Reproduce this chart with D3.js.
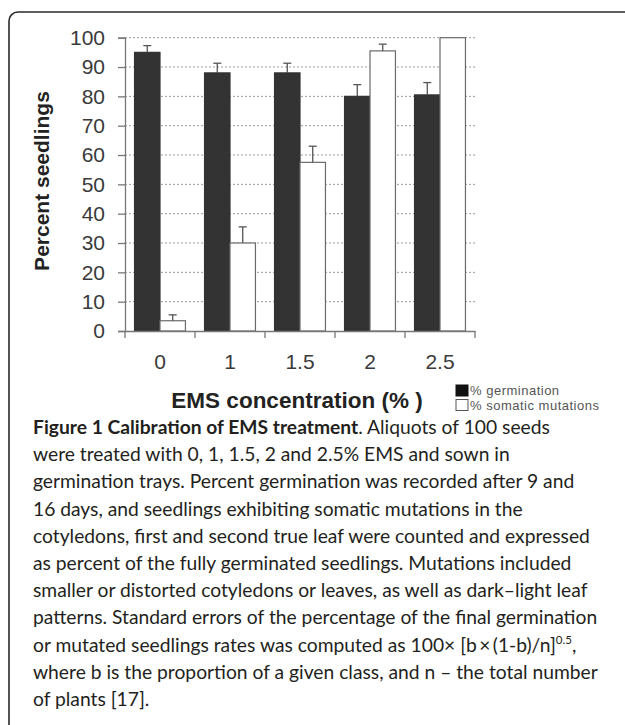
<!DOCTYPE html>
<html>
<head>
<meta charset="utf-8">
<script src="https://cdn.jsdelivr.net/npm/d3@7"></script>
<style>
  html, body { margin: 0; padding: 0; background: #fff; }
  svg { display: block; }
</style>
</head>
<body>
<svg id="chart" width="625" height="725"></svg>
<script>
// data
const concentrations = ["0", "1", "1.5", "2", "2.5"];
const germination = [95, 88, 88, 80, 80.5];
const germinationErr = [2.3, 3.3, 3.3, 4, 4.2];
const somatic = [3.5, 30, 57.5, 95.5, 100];
const somaticErr = [2, 5.5, 5.5, 2.3, 0];
const yTicks = [0, 10, 20, 30, 40, 50, 60, 70, 80, 90, 100];
const seriesNames = ["% germination", "% somatic mutations"];
const seriesColors = ["#333333", "#ffffff"];

const captionLines = [
  [["Figure 1 Calibration of EMS treatment", "bold"], [". Aliquots of 100 seeds", "normal"]],
  [["were treated with 0, 1, 1.5, 2 and 2.5% EMS and sown in", "normal"]],
  [["germination trays. Percent germination was recorded after 9 and", "normal"]],
  [["16 days, and seedlings exhibiting somatic mutations in the", "normal"]],
  [["cotyledons, first and second true leaf were counted and expressed", "normal"]],
  [["as percent of the fully germinated seedlings. Mutations included", "normal"]],
  [["smaller or distorted cotyledons or leaves, as well as dark\u2013light leaf", "normal"]],
  [["patterns. Standard errors of the percentage of the final germination", "normal"]],
  [["or mutated seedlings rates was computed as 100\u00d7 [b\u2009\u00d7\u2009(1-b)/n]", "normal"], ["0.5", "sup"], [",", "after"]],
  [["where b is the proportion of a given class, and n \u2013 the total number", "normal"]],
  [["of plants [17].", "normal"]]
];

const svg = d3.select("#chart");

// frame round the figure
svg.append("rect")
  .attr("x", 9).attr("y", 12)
  .attr("width", 640).attr("height", 760)
  .attr("rx", 9).attr("ry", 9)
  .attr("fill", "none")
  .attr("stroke", "#2a2a2a")
  .attr("stroke-width", 1.6);

const plot = { left: 125, right: 475, top: 37.7, bottom: 331 };

const x = d3.scaleBand()
  .domain(concentrations)
  .range([plot.left, plot.right]);

const xInner = d3.scaleBand()
  .domain(seriesNames)
  .range([0, x.bandwidth()])
  .paddingOuter(0.375);

const y = d3.scaleLinear()
  .domain([0, 100])
  .range([plot.bottom, plot.top]);

// dotted gridlines
svg.append("g")
  .selectAll("line")
  .data(yTicks.filter(d => d > 0))
  .enter().append("line")
  .attr("x1", plot.left).attr("x2", plot.right)
  .attr("y1", d => y(d)).attr("y2", d => y(d))
  .attr("stroke", "#9a9a9a")
  .attr("stroke-width", 1)
  .attr("stroke-dasharray", "2,2");

// bars
const rows = concentrations.map((c, i) => ({
  c,
  vals: [
    { s: seriesNames[0], v: germination[i], e: germinationErr[i], color: seriesColors[0] },
    { s: seriesNames[1], v: somatic[i], e: somaticErr[i], color: seriesColors[1] }
  ]
}));

const group = svg.append("g").selectAll("g")
  .data(rows)
  .enter().append("g")
  .attr("transform", d => `translate(${x(d.c)},0)`);

group.selectAll("rect")
  .data(d => d.vals)
  .enter().append("rect")
  .attr("x", d => xInner(d.s))
  .attr("width", xInner.bandwidth())
  .attr("y", d => y(d.v))
  .attr("height", d => y(0) - y(d.v))
  .attr("fill", d => d.color)
  .attr("stroke", d => d.color === "#ffffff" ? "#6a6a6a" : "#333333")
  .attr("stroke-width", 1.2);

// upward error bars with cap
const errs = group.selectAll("g.err")
  .data(d => d.vals.filter(v => v.e > 0))
  .enter().append("g").attr("class", "err");

errs.append("line")
  .attr("x1", d => xInner(d.s) + xInner.bandwidth() / 2)
  .attr("x2", d => xInner(d.s) + xInner.bandwidth() / 2)
  .attr("y1", d => y(d.v))
  .attr("y2", d => y(d.v + d.e))
  .attr("stroke", "#555")
  .attr("stroke-width", 1.3);

errs.append("line")
  .attr("x1", d => xInner(d.s) + xInner.bandwidth() / 2 - 4)
  .attr("x2", d => xInner(d.s) + xInner.bandwidth() / 2 + 4)
  .attr("y1", d => y(d.v + d.e))
  .attr("y2", d => y(d.v + d.e))
  .attr("stroke", "#555")
  .attr("stroke-width", 1.3);

// y axis
const yAxis = svg.append("g")
  .attr("transform", `translate(${plot.left},0)`)
  .call(d3.axisLeft(y).tickValues(yTicks).tickSizeOuter(0).tickSize(7).tickPadding(13));

// x axis, ticks at band boundaries
const xAxis = svg.append("g")
  .attr("transform", `translate(0,${plot.bottom})`)
  .call(d3.axisBottom(x).tickSize(0).tickPadding(23));

xAxis.append("g")
  .selectAll("line")
  .data(concentrations.map(c => x(c) + x.bandwidth()).concat([plot.left]))
  .enter().append("line")
  .attr("x1", d => d).attr("x2", d => d)
  .attr("y1", 0).attr("y2", 7);

[yAxis, xAxis].forEach(a => {
  a.select(".domain").attr("stroke", "#777").attr("stroke-width", 1.3);
  a.selectAll("line").attr("stroke", "#777").attr("stroke-width", 1.3);
  a.selectAll("text")
    .attr("fill", "#3a3a3a")
    .style("font-family", "'Liberation Sans', Arial, sans-serif")
    .style("font-size", "21px");
});

// axis titles
svg.append("text")
  .attr("transform", "translate(49,181) rotate(-90)")
  .attr("text-anchor", "middle")
  .style("font-family", "'Liberation Sans', Arial, sans-serif")
  .style("font-weight", "bold")
  .style("font-size", "21px")
  .attr("fill", "#222")
  .text("Percent seedlings");

svg.append("text")
  .attr("x", 297).attr("y", 408)
  .attr("text-anchor", "middle")
  .style("font-family", "'Liberation Sans', Arial, sans-serif")
  .style("font-weight", "bold")
  .style("font-size", "22.5px")
  .attr("fill", "#222")
  .text("EMS concentration (% )");

// legend
const legend = svg.append("g").selectAll("g")
  .data(seriesNames)
  .enter().append("g")
  .attr("transform", (d, i) => `translate(456,${385 + i * 14.5})`);

legend.append("rect")
  .attr("width", 12).attr("height", 11)
  .attr("fill", (d, i) => i === 0 ? "#111" : "#fff")
  .attr("stroke", (d, i) => i === 0 ? "#111" : "#555")
  .attr("stroke-width", 1);

legend.append("text")
  .attr("x", 14).attr("y", 10)
  .style("font-family", "'Liberation Sans', Arial, sans-serif")
  .style("font-size", "13px")
  .style("letter-spacing", "0.5px")
  .attr("fill", "#555")
  .text(d => d);

// caption
const capFont = "Lato, 'Open Sans', sans-serif";
const capText = svg.append("g").selectAll("text")
  .data(captionLines)
  .enter().append("text")
  .attr("x", 33)
  .attr("y", (d, i) => 434 + i * 27.2)
  .style("font-family", capFont)
  .style("font-size", "20px")
  .attr("fill", "#231f20");

capText.each(function(parts) {
  const t = d3.select(this);
  parts.forEach(([str, kind]) => {
    const sp = t.append("tspan").text(str).attr("class", kind);
    if (kind === "bold") sp.style("font-weight", "bold");
    if (kind === "sup") sp.attr("dy", -8);
    if (kind === "after") sp.attr("dy", 8);
  });
});

// fit caption size so the widest line matches the picture
const probe = capText.filter((d, i) => i === 4).node();
const size = 20 * 557 / probe.getComputedTextLength();
capText.style("font-size", size + "px");
capText.selectAll("tspan.sup").style("font-size", (size * 0.6) + "px");
</script>
</body>
</html>
